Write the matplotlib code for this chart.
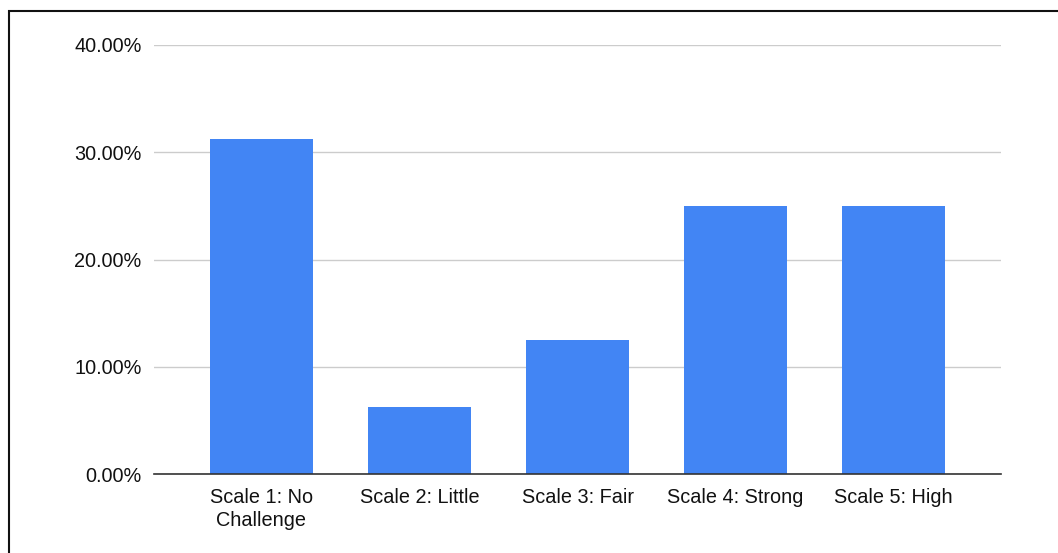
import matplotlib.pyplot as plt
from matplotlib.patches import Rectangle
from matplotlib.ticker import FuncFormatter

categories = ["Scale 1: No\nChallenge", "Scale 2: Little", "Scale 3: Fair",
              "Scale 4: Strong", "Scale 5: High"]
shares = [31.25, 6.25, 12.5, 25.0, 25.0]
y_ticks = [0, 10, 20, 30, 40]

plt.rcParams['font.family'] = ['Liberation Sans', 'DejaVu Sans']

W, H = 1058, 553
fig = plt.figure(figsize=(W / 100, H / 100), dpi=100)
ax = fig.add_axes([154 / W, 1 - 474 / H, (1001 - 154) / W, (474 - 45) / H])

x = range(len(categories))
ax.bar(x, shares, width=0.65, color='#4285f4', zorder=3)

ax.set_xlim(-0.68, len(categories) - 1 + 0.68)
ax.set_ylim(0, 40)
ax.set_yticks(y_ticks)
ax.yaxis.set_major_formatter(FuncFormatter(lambda v, _: f"{v:.2f}%"))
ax.set_xticks(list(x))
ax.set_xticklabels(categories, linespacing=1.25)

ax.grid(axis='y', color='#cccccc', linewidth=1, zorder=0)
for side in ['top', 'right', 'left']:
    ax.spines[side].set_visible(False)
ax.spines['bottom'].set_color('#333333')
ax.spines['bottom'].set_linewidth(1.2)
ax.spines['bottom'].set_zorder(4)
ax.tick_params(axis='both', length=0, labelsize=14.3, colors='#111111')
ax.tick_params(axis='x', pad=10)
ax.tick_params(axis='y', pad=9)

# frame around the chart area
fig.patches.append(Rectangle((8.5 / W, -0.1), 1.2, 1.1 - 11.5 / H,
                             transform=fig.transFigure, fill=False,
                             edgecolor='#111111', linewidth=1.5))

fig.savefig('out.png', dpi=100)
